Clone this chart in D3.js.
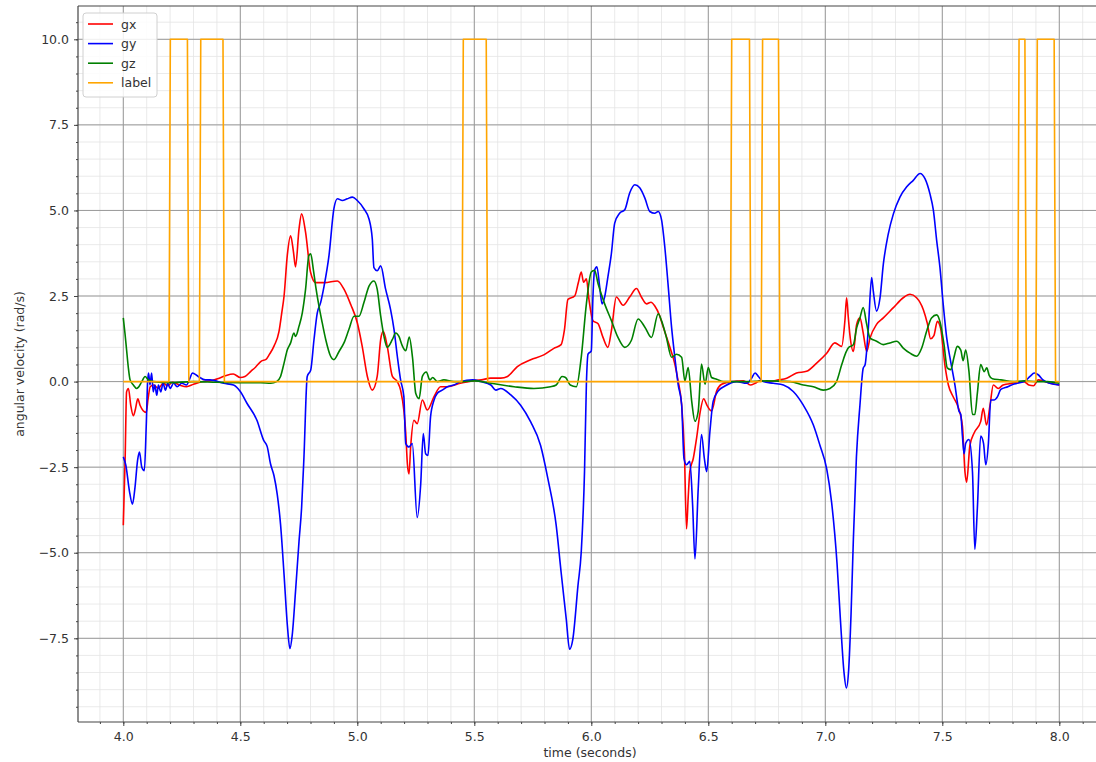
<!DOCTYPE html>
<html>
<head>
<meta charset="utf-8">
<script src="https://cdn.jsdelivr.net/npm/d3@7"></script>
<style>
  body { margin: 0; background: #fff; }
  text { font-family: "DejaVu Sans", sans-serif; }
</style>
</head>
<body>
<svg width="1096" height="762"></svg>
<script>
// gyro readings (time in s, value in rad/s)
var gxT = [4.000,4.008,4.014,4.022,4.032,4.043,4.052,4.062,4.072,4.085,4.098,4.106,4.115,4.13,4.15,4.17,4.19,4.21,4.24,4.27,4.30,4.34,4.38,4.41,4.44,4.47,4.50,4.52,4.545,4.565,4.59,4.61,4.625,4.645,4.665,4.677,4.687,4.701,4.715,4.727,4.736,4.751,4.762,4.779,4.80,4.822,4.86,4.915,4.943,4.972,5.0,5.021,5.043,5.064,5.085,5.10,5.111,5.128,5.15,5.171,5.185,5.2,5.207,5.214,5.221,5.228,5.242,5.256,5.278,5.299,5.328,5.356,5.385,5.44,5.49,5.53,5.57,5.613,5.642,5.684,5.741,5.797,5.84,5.871,5.885,5.9,5.929,5.945,5.957,5.967,5.979,5.99,6.007,6.029,6.05,6.071,6.086,6.107,6.136,6.164,6.193,6.214,6.236,6.255,6.272,6.29,6.307,6.336,6.357,6.371,6.386,6.398,6.407,6.414,6.421,6.436,6.45,6.465,6.48,6.495,6.514,6.536,6.557,6.6,6.65,6.68,6.70,6.72,6.76,6.80,6.835,6.877,6.92,6.963,7.006,7.041,7.07,7.084,7.091,7.098,7.105,7.12,7.134,7.148,7.162,7.177,7.191,7.219,7.248,7.291,7.333,7.362,7.39,7.419,7.436,7.45,7.464,7.479,7.493,7.511,7.526,7.547,7.568,7.586,7.597,7.604,7.618,7.636,7.664,7.675,7.689,7.704,7.718,7.739,7.76,7.8,7.85,7.87,7.89,7.91,7.93,7.96,8.0];
var gxV = [-4.2,-2.2,-0.3,-0.2,-0.7,-1.0,-0.8,-0.5,-0.7,-0.85,-0.9,-0.5,-0.15,-0.1,-0.2,-0.05,-0.12,-0.02,-0.1,-0.15,-0.08,0.0,0.03,0.1,0.18,0.22,0.12,0.15,0.3,0.42,0.6,0.65,0.8,1.05,1.45,2.0,2.5,3.7,4.26,3.8,3.35,4.46,4.9,4.36,3.2,2.89,2.89,2.94,2.7,2.25,1.72,1.03,0.15,-0.25,0.15,1.23,1.47,1.03,0.15,0.0,-0.25,-0.9,-1.5,-2.4,-2.7,-1.91,-1.13,-1.23,-0.54,-0.83,-0.44,-0.15,-0.15,-0.05,0.02,0.05,0.1,0.1,0.15,0.44,0.64,0.78,0.97,1.08,1.5,2.4,2.5,2.9,3.2,2.9,3.0,2.4,1.78,1.69,1.29,1.0,1.49,2.47,2.23,2.47,2.72,2.47,2.27,2.32,2.2,1.96,1.6,1.0,0.51,0.02,-0.67,-2.1,-4.3,-3.4,-2.63,-2.24,-1.65,-0.9,-0.5,-0.7,-0.86,-0.27,-0.08,0.0,0.02,-0.1,-0.05,0.02,0.0,0.05,0.1,0.25,0.3,0.54,0.83,1.13,1.03,1.8,2.45,1.9,1.37,0.88,1.67,1.86,1.42,0.88,1.27,1.67,1.86,2.16,2.45,2.55,2.45,2.1,1.7,1.25,1.34,1.76,1.55,0.49,-0.1,-0.45,-0.75,-1.3,-2.65,-2.94,-1.86,-1.5,-1.17,-0.78,-1.27,-0.69,-0.1,-0.2,-0.1,-0.05,0.0,-0.1,-0.12,0.05,0.02,-0.05,-0.1];

var gyT = [4.000,4.011,4.026,4.039,4.05,4.061,4.069,4.079,4.09,4.098,4.104,4.108,4.114,4.121,4.128,4.135,4.143,4.15,4.16,4.17,4.18,4.19,4.2,4.215,4.23,4.25,4.27,4.285,4.295,4.32,4.35,4.371,4.429,4.471,4.5,4.529,4.571,4.6,4.615,4.629,4.644,4.658,4.672,4.687,4.701,4.712,4.722,4.736,4.751,4.762,4.772,4.786,4.801,4.815,4.829,4.843,4.858,4.879,4.9,4.915,4.936,4.957,4.979,5.0,5.028,5.05,5.064,5.071,5.085,5.1,5.121,5.142,5.157,5.171,5.185,5.199,5.207,5.221,5.235,5.256,5.271,5.282,5.292,5.302,5.313,5.328,5.342,5.363,5.385,5.413,5.443,5.493,5.528,5.571,5.592,5.613,5.656,5.698,5.741,5.783,5.814,5.85,5.871,5.893,5.907,5.921,5.943,5.957,5.971,5.979,5.986,6.0,6.007,6.014,6.024,6.036,6.046,6.057,6.071,6.086,6.1,6.121,6.143,6.164,6.186,6.207,6.229,6.25,6.271,6.286,6.3,6.314,6.329,6.343,6.357,6.371,6.386,6.396,6.407,6.421,6.433,6.443,6.457,6.471,6.483,6.493,6.507,6.521,6.543,6.571,6.621,6.664,6.685,6.7,6.714,6.735,6.778,6.821,6.863,6.906,6.949,6.977,7.006,7.027,7.05,7.065,7.08,7.09,7.1,7.11,7.12,7.133,7.148,7.162,7.17,7.184,7.198,7.205,7.219,7.234,7.248,7.269,7.291,7.319,7.348,7.376,7.405,7.426,7.447,7.462,7.476,7.49,7.504,7.519,7.533,7.554,7.571,7.579,7.586,7.593,7.6,7.614,7.629,7.639,7.65,7.664,7.676,7.686,7.697,7.707,7.721,7.736,7.75,7.78,7.807,7.85,7.875,7.893,7.91,7.93,7.96,8.0];
var gyV = [-2.2,-2.45,-3.19,-3.58,-3.09,-2.3,-2.06,-2.5,-2.6,-1.3,0.0,0.25,-0.1,0.25,-0.3,-0.1,-0.4,-0.1,-0.3,-0.05,-0.25,-0.05,-0.2,-0.05,-0.15,-0.05,-0.1,0.1,0.25,0.15,0.05,0.05,-0.05,-0.1,-0.29,-0.64,-1.13,-1.72,-1.9,-2.4,-2.75,-3.3,-4.17,-5.64,-7.11,-7.8,-7.4,-6.13,-4.66,-3.68,-2.21,0.15,0.34,1.23,2.01,2.3,2.79,3.68,5.05,5.34,5.29,5.34,5.39,5.29,5.05,4.75,4.17,3.33,3.24,3.38,2.7,2.11,1.52,0.74,0.05,-0.44,-1.81,-1.91,-1.81,-3.97,-2.99,-1.52,-2.11,-2.16,-1.03,-0.54,-0.34,-0.25,-0.15,-0.1,0.0,0.05,0.0,-0.1,-0.25,-0.2,-0.39,-0.69,-1.18,-1.86,-2.82,-4.2,-5.57,-6.94,-7.82,-7.53,-5.96,-4.98,-2.63,-0.08,0.8,0.9,2.47,3.25,3.35,2.76,2.27,2.47,3.06,3.75,4.63,4.92,5.02,5.51,5.75,5.66,5.36,4.97,4.92,4.97,4.73,3.94,2.76,1.59,0.71,-0.08,-0.67,-2.24,-2.43,-2.33,-3.61,-5.18,-3.12,-1.55,-2.24,-2.63,-1.45,-0.57,-0.27,-0.13,0.0,-0.05,0.1,0.25,0.15,0.0,-0.05,-0.1,-0.29,-0.69,-1.27,-1.86,-2.55,-3.53,-5.3,-7.0,-8.5,-8.95,-8.4,-6.8,-4.6,-2.2,-0.69,0.39,0.49,1.57,3.04,2.65,2.06,2.45,3.43,4.31,4.9,5.39,5.69,5.88,6.08,5.93,5.49,5.0,4.12,3.33,2.25,1.27,0.69,-0.1,-0.86,-0.96,-1.59,-2.11,-1.8,-1.69,-2.64,-4.9,-3.68,-1.59,-1.8,-2.43,-1.8,-0.54,-0.54,-0.44,-0.23,-0.15,-0.07,0.0,0.15,0.25,0.2,0.05,-0.05,-0.1];

var gzT = [4.0,4.007,4.014,4.021,4.029,4.043,4.057,4.064,4.079,4.093,4.107,4.13,4.2,4.3,4.4,4.5,4.587,4.63,4.655,4.672,4.687,4.701,4.715,4.729,4.736,4.751,4.765,4.779,4.793,4.801,4.812,4.822,4.836,4.85,4.865,4.886,4.9,4.922,4.943,4.964,4.986,5.007,5.028,5.05,5.071,5.085,5.1,5.114,5.128,5.15,5.164,5.178,5.192,5.207,5.222,5.236,5.25,5.264,5.278,5.295,5.31,5.322,5.342,5.37,5.413,5.45,5.5,5.571,5.67,5.755,5.826,5.85,5.875,5.89,5.91,5.936,5.957,5.979,6.0,6.014,6.029,6.057,6.086,6.114,6.143,6.171,6.2,6.229,6.257,6.286,6.3,6.321,6.343,6.364,6.386,6.4,6.414,6.429,6.443,6.457,6.471,6.486,6.5,6.514,6.536,6.564,6.65,6.75,6.85,6.906,6.949,6.991,7.02,7.048,7.07,7.084,7.098,7.12,7.134,7.148,7.162,7.177,7.191,7.219,7.248,7.276,7.305,7.333,7.362,7.39,7.412,7.433,7.454,7.476,7.49,7.507,7.521,7.536,7.55,7.564,7.579,7.589,7.6,7.614,7.629,7.639,7.65,7.664,7.679,7.69,7.7,7.714,7.75,7.8,7.85,7.9,7.95,8.0];
var gzV = [1.86,1.42,0.93,0.44,0.05,-0.1,-0.2,-0.17,0.0,0.15,0.05,0.0,-0.03,0.0,-0.02,-0.03,-0.03,-0.05,0.0,0.15,0.54,0.93,1.13,1.42,1.32,1.62,2.01,2.7,3.68,3.73,3.28,2.79,2.21,1.72,1.23,0.74,0.64,0.88,1.13,1.52,1.91,1.91,2.3,2.79,2.94,2.7,1.91,1.32,1.0,1.23,1.42,1.32,1.05,0.9,1.3,0.7,-0.35,-0.5,0.15,0.28,0.05,0.12,0.0,0.05,0.0,0.0,0.02,-0.05,-0.15,-0.2,-0.15,-0.1,0.15,0.12,-0.1,-0.15,0.71,2.27,3.2,3.25,2.86,2.27,1.78,1.29,1.0,1.2,1.83,1.59,1.29,1.98,1.78,1.29,0.71,0.8,0.71,0.02,0.41,-0.57,-1.16,-0.86,0.51,-0.08,0.41,0.12,0.07,0.0,0.0,0.02,0.0,-0.1,-0.15,-0.25,-0.2,0.0,0.49,0.78,0.98,1.08,1.57,1.86,2.16,1.67,1.27,1.18,1.08,1.13,1.18,0.98,0.83,0.74,0.98,1.47,1.86,1.95,1.75,1.1,0.4,0.35,0.71,1.03,0.92,0.61,0.92,0.29,-0.96,-0.96,-0.33,0.5,0.29,0.4,0.19,0.08,0.05,0.0,0.02,0.0,0.0,-0.05];

// label pulses (0 -> 10 -> 0)
var labelOn  = [4.195, 4.325, 5.447, 6.594, 6.726, 7.822, 7.900];
var labelOff = [4.274, 4.426, 5.551, 6.676, 6.800, 7.853, 7.978];

var seriesNames = ['gx', 'gy', 'gz', 'label'];
var seriesColors = ['#ff0000', '#0000ff', '#008000', '#ffa500'];

var xTicks = [4.0, 4.5, 5.0, 5.5, 6.0, 6.5, 7.0, 7.5, 8.0];
var yTicks = [-7.5, -5.0, -2.5, 0.0, 2.5, 5.0, 7.5, 10.0];

var svg = d3.select('svg');
var plotLeft = 78, plotTop = 6, plotBottom = 722, plotRight = 1096;

var x = d3.scaleLinear().domain([4, 8]).range([123.3, 1059.3]);
var y = d3.scaleLinear().domain([-7.5, 10]).range([638.3, 39.3]);

var zip = function(ts, vs) {
  return ts.map(function(t, i) { return [t, vs[i]]; });
};

var labelData = [[4.0, 0]];
for (var i = 0; i < labelOn.length; i++) {
  labelData.push([labelOn[i], 0]);
  labelData.push([labelOn[i] + 0.006, 10]);
  labelData.push([labelOff[i], 10]);
  labelData.push([labelOff[i] + 0.006, 0]);
}
labelData.push([8.0, 0]);

var allData = [zip(gxT, gxV), zip(gyT, gyV), zip(gzT, gzV), labelData];

svg.append('defs').append('clipPath').attr('id', 'plot')
  .append('rect').attr('x', plotLeft).attr('y', plotTop)
  .attr('width', plotRight - plotLeft).attr('height', plotBottom - plotTop);

// grid, minor then major
var minorX = d3.range(39, 82).map(function(d) { return d / 10; });
var minorY = d3.range(-19, 22).map(function(d) { return d / 2; });

var grid = svg.append('g').attr('clip-path', 'url(#plot)');
grid.selectAll('.mx').data(minorX).enter().append('line')
  .attr('x1', function(d) { return x(d); }).attr('x2', function(d) { return x(d); })
  .attr('y1', plotTop).attr('y2', plotBottom)
  .attr('stroke', '#e4e4e4').attr('stroke-width', 0.8);
grid.selectAll('.my').data(minorY).enter().append('line')
  .attr('y1', function(d) { return y(d); }).attr('y2', function(d) { return y(d); })
  .attr('x1', plotLeft).attr('x2', plotRight)
  .attr('stroke', '#e4e4e4').attr('stroke-width', 0.8);
grid.selectAll('.gx').data(xTicks).enter().append('line')
  .attr('x1', function(d) { return x(d); }).attr('x2', function(d) { return x(d); })
  .attr('y1', plotTop).attr('y2', plotBottom)
  .attr('stroke', '#999').attr('stroke-width', 1);
grid.selectAll('.gy').data(yTicks).enter().append('line')
  .attr('y1', function(d) { return y(d); }).attr('y2', function(d) { return y(d); })
  .attr('x1', plotLeft).attr('x2', plotRight)
  .attr('stroke', '#999').attr('stroke-width', 1);

var smooth = d3.line()
  .curve(d3.curveMonotoneX)
  .x(function(d) { return x(d[0]); })
  .y(function(d) { return y(d[1]); });
var straight = d3.line()
  .x(function(d) { return x(d[0]); })
  .y(function(d) { return y(d[1]); });

svg.append('g').attr('clip-path', 'url(#plot)')
  .selectAll('path').data(allData).enter().append('path')
  .attr('d', function(d, i) { return i < 3 ? smooth(d) : straight(d); })
  .attr('fill', 'none')
  .attr('stroke', function(d, i) { return seriesColors[i]; })
  .attr('stroke-width', 1.6)
  .attr('stroke-linejoin', 'round');

// axes
var fmt = function(d) { return d3.format('.1f')(d).replace('-', '\u2212'); };
var xAxis = d3.axisBottom(x).tickValues(xTicks).tickFormat(fmt).tickSize(4).tickPadding(6);
var yAxis = d3.axisLeft(y).tickValues(yTicks).tickFormat(fmt).tickSize(4).tickPadding(5);

var gxa = svg.append('g').attr('transform', 'translate(0,' + plotBottom + ')').call(xAxis);
var gya = svg.append('g').attr('transform', 'translate(' + plotLeft + ',0)').call(yAxis);
[gxa, gya].forEach(function(g) {
  g.select('.domain').remove();
  g.selectAll('line').attr('stroke', '#444');
  g.selectAll('text').attr('fill', '#333').style('font-size', '12.5px')
    .style('font-family', '"DejaVu Sans", sans-serif');
});

svg.append('g').attr('transform', 'translate(0,' + plotBottom + ')')
  .call(d3.axisBottom(x).tickValues(minorX.filter(function(d) { return d > 3.85; })).tickSize(2).tickFormat(''))
  .call(function(g) { g.select('.domain').remove(); g.selectAll('line').attr('stroke', '#444'); });
svg.append('g').attr('transform', 'translate(' + plotLeft + ',0)')
  .call(d3.axisLeft(y).tickValues(minorY.filter(function(d) { return d > -9.9 && d < 10.9; })).tickSize(2).tickFormat(''))
  .call(function(g) { g.select('.domain').remove(); g.selectAll('line').attr('stroke', '#444'); });

// spines
svg.append('line').attr('x1', plotLeft).attr('x2', plotLeft).attr('y1', plotTop).attr('y2', plotBottom)
  .attr('stroke', '#444').attr('stroke-width', 1.2);
svg.append('line').attr('x1', plotLeft).attr('x2', plotRight).attr('y1', plotBottom).attr('y2', plotBottom)
  .attr('stroke', '#444').attr('stroke-width', 1.2);
svg.append('line').attr('x1', plotLeft).attr('x2', plotRight).attr('y1', plotTop).attr('y2', plotTop)
  .attr('stroke', '#444').attr('stroke-width', 1.2);

svg.append('text').attr('x', 590).attr('y', 757).attr('text-anchor', 'middle')
  .attr('fill', '#333').style('font-size', '12.5px').text('time (seconds)');
svg.append('text').attr('transform', 'translate(24,' + ((plotTop + plotBottom) / 2) + ') rotate(-90)')
  .attr('text-anchor', 'middle').attr('fill', '#333').style('font-size', '12.5px')
  .text('angular velocity (rad/s)');

// legend
var legend = svg.append('g');
legend.append('rect').attr('x', 83).attr('y', 13).attr('width', 74).attr('height', 84)
  .attr('rx', 3).attr('fill', 'rgba(255,255,255,0.85)').attr('stroke', '#d0d0d0');
var items = legend.selectAll('.item').data(seriesNames).enter().append('g')
  .attr('transform', function(d, i) { return 'translate(0,' + (24 + i * 19.6) + ')'; });
items.append('line').attr('x1', 88).attr('x2', 113).attr('y1', 0).attr('y2', 0)
  .attr('stroke', function(d, i) { return seriesColors[i]; }).attr('stroke-width', 1.6);
items.append('text').attr('x', 121).attr('y', 4.5).attr('fill', '#333')
  .style('font-size', '12.5px').text(function(d) { return d; });
</script>
</body>
</html>
